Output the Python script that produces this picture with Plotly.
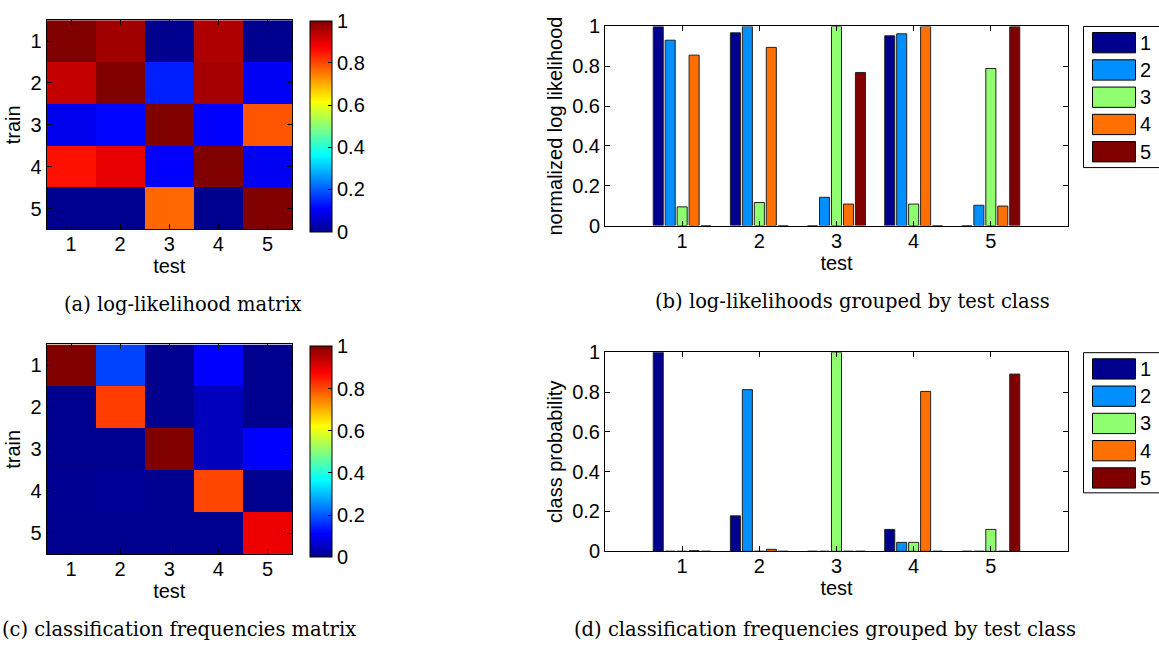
import plotly.graph_objects as go

# ---------------- data ----------------
test_classes = [1, 2, 3, 4, 5]
train_classes = [1, 2, 3, 4, 5]
class_labels = ["1", "2", "3", "4", "5"]
prob_ticks = [0, 0.2, 0.4, 0.6, 0.8, 1]
prob_tick_labels = ["0", "0.2", "0.4", "0.6", "0.8", "1"]

# normalized log likelihood: one list per train class, values over test classes
ll_train1 = [1.0, 0.968, 0.0, 0.953, 0.0]
ll_train2 = [0.931, 1.0, 0.142, 0.963, 0.102]
ll_train3 = [0.094, 0.116, 1.0, 0.108, 0.789]
ll_train4 = [0.856, 0.895, 0.108, 1.0, 0.098]
ll_train5 = [0.0, 0.0, 0.769, 0.0, 1.0]

# classification frequencies: one list per train class, values over test classes
cf_train1 = [1.0, 0.178, 0.0, 0.11, 0.0]
cf_train2 = [0.0, 0.812, 0.0, 0.045, 0.0]
cf_train3 = [0.0, 0.0, 1.0, 0.045, 0.11]
cf_train4 = [0.003, 0.01, 0.0, 0.803, 0.0]
cf_train5 = [0.0, 0.0, 0.0, 0.0, 0.89]

series_colors = ["#00008F", "#008FFF", "#8FFF70", "#FF7000", "#800000"]

captions = [
    "(a) log-likelihood matrix",
    "(b) log-likelihoods grouped by test class",
    "(c) classification frequencies matrix",
    "(d) classification frequencies grouped by test class",
]

ll_matrix = [ll_train1, ll_train2, ll_train3, ll_train4, ll_train5]
cf_matrix = [cf_train1, cf_train2, cf_train3, cf_train4, cf_train5]

# ---------------- layout helpers ----------------
W, H = 1159, 658


def fx(px):
    return px / W


def fy(py):
    return 1 - py / H


jet = [
    [0.0, "rgb(0,0,143)"],
    [0.111, "rgb(0,0,255)"],
    [0.365, "rgb(0,255,255)"],
    [0.619, "rgb(255,255,0)"],
    [0.873, "rgb(255,0,0)"],
    [1.0, "rgb(128,0,0)"],
]

SANS = "Liberation Sans, Arial, Helvetica, sans-serif"
SERIF = "DejaVu Serif, serif"
FS = 20

fig = go.Figure()


def colorbar(top_px, bottom_px):
    return dict(
        x=fx(310), xanchor="left", y=fy(top_px), yanchor="top",
        len=(bottom_px - top_px) / H, lenmode="fraction",
        thickness=22, thicknessmode="pixels", xpad=0, ypad=0,
        outlinewidth=1, outlinecolor="black",
        tickvals=prob_ticks, ticktext=prob_tick_labels,
        ticks="inside", ticklen=4, tickcolor="black",
        tickfont=dict(family=SANS, size=FS, color="black"),
    )


fig.add_trace(go.Heatmap(
    z=ll_matrix, x=test_classes, y=train_classes,
    colorscale=jet, zmin=0, zmax=1, xaxis="x", yaxis="y",
    colorbar=colorbar(10, 228),
))
fig.add_trace(go.Heatmap(
    z=cf_matrix, x=test_classes, y=train_classes,
    colorscale=jet, zmin=0, zmax=1, xaxis="x3", yaxis="y3",
    colorbar=colorbar(347, 565),
))

for i, vals in enumerate(ll_matrix):
    fig.add_trace(go.Bar(
        x=test_classes, y=vals, name=class_labels[i],
        marker=dict(color=series_colors[i], line=dict(color="#222222", width=1)),
        xaxis="x2", yaxis="y2", offsetgroup=str(i), showlegend=False,
    ))
for i, vals in enumerate(cf_matrix):
    fig.add_trace(go.Bar(
        x=test_classes, y=vals, name=class_labels[i],
        marker=dict(color=series_colors[i], line=dict(color="#222222", width=1)),
        xaxis="x4", yaxis="y4", offsetgroup=str(i), showlegend=False,
    ))

axis_common = dict(
    showline=True, mirror="ticks", linecolor="black", linewidth=1,
    ticks="inside", ticklen=5, tickcolor="black", showgrid=False, zeroline=False,
    tickfont=dict(family=SANS, size=FS, color="black"),
    title_font=dict(family=SANS, size=FS, color="black"),
)

heat_x = dict(axis_common, range=[0.5, 5.5], tickvals=test_classes, ticktext=class_labels,
              ticklabelstandoff=-3, title=dict(text="test", standoff=0))
heat_y = dict(axis_common, range=[5.5, 0.5], tickvals=train_classes, ticktext=class_labels,
              title=dict(text="train", standoff=4))
bar_x = dict(axis_common, range=[0, 6], tickvals=test_classes, ticktext=class_labels,
             ticklabelstandoff=-3, title=dict(text="test", standoff=0))
bar_y = dict(axis_common, range=[0, 1], tickvals=prob_ticks, ticktext=prob_tick_labels)

fig.update_layout(
    width=W, height=H, margin=dict(l=0, r=0, t=0, b=0),
    paper_bgcolor="white", plot_bgcolor="white",
    barmode="group", bargap=0.225, bargroupgap=0.16,
    xaxis=dict(heat_x, domain=[fx(46.5), fx(292)], anchor="y"),
    yaxis=dict(heat_y, domain=[fy(226), fy(9.5)], anchor="x"),
    xaxis2=dict(bar_x, domain=[fx(605), fx(1068)], anchor="y2"),
    yaxis2=dict(bar_y, domain=[fy(222), fy(16)], anchor="x2",
                title=dict(text="normalized log likelihood", standoff=4)),
    xaxis3=dict(heat_x, domain=[fx(46.5), fx(292)], anchor="y3"),
    yaxis3=dict(heat_y, domain=[fy(562), fy(345)], anchor="x3"),
    xaxis4=dict(bar_x, domain=[fx(605), fx(1068)], anchor="y4"),
    yaxis4=dict(bar_y, domain=[fy(559), fy(353)], anchor="x4",
                title=dict(text="class probability", standoff=4)),
    font=dict(family=SANS, size=FS, color="black"),
)

# ---------------- legends (drawn as boxes + labels) ----------------
shapes = []
annotations = []
for top, bottom in [(16, 162), (353.5, 498.5)]:
    shapes.append(dict(type="rect", xref="paper", yref="paper",
                       x0=fx(1083.5), x1=fx(1165), y0=fy(bottom), y1=fy(top),
                       line=dict(color="black", width=1), fillcolor="white", layer="above"))
    for i, lab in enumerate(class_labels):
        cy = top + 16.8 + 28.2 * i
        shapes.append(dict(type="rect", xref="paper", yref="paper",
                           x0=fx(1092.5), x1=fx(1135.5), y0=fy(cy + 10.5), y1=fy(cy - 10.5),
                           line=dict(color="black", width=1), fillcolor=series_colors[i],
                           layer="above"))
        annotations.append(dict(xref="paper", yref="paper", x=fx(1138), y=fy(cy),
                                xanchor="left", yanchor="middle", text=lab, showarrow=False,
                                font=dict(family=SANS, size=FS, color="black")))

# ---------------- captions ----------------
for text, cx, cy in [(captions[0], 183, 304), (captions[1], 852, 301),
                     (captions[2], 179, 640), (captions[3], 825, 640)]:
    annotations.append(dict(xref="paper", yref="paper", x=fx(cx), y=fy(cy),
                            xanchor="center", yanchor="middle", text=text, showarrow=False,
                            font=dict(family=SERIF, size=19.5, color="black")))

fig.update_layout(shapes=shapes, annotations=annotations)

fig.write_html("out.html", config={"displayModeBar": False},
               post_script="document.body.style.margin='0';document.body.style.overflow='hidden';")
